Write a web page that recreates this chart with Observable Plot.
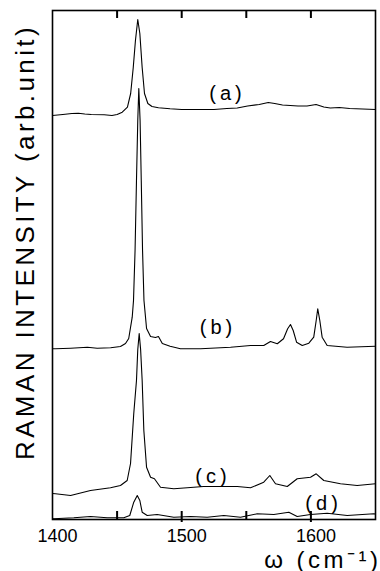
<!DOCTYPE html>
<html><head><meta charset="utf-8">
<script src="https://cdn.jsdelivr.net/npm/d3@7"></script>
<script src="https://cdn.jsdelivr.net/npm/@observablehq/plot@0.6"></script>
<style>
body{margin:0;background:#fff}
</style>
</head><body><div id="chart"></div>
<script>
// Wavenumbers (cm-1) and intensities (arb. unit, offset spectra as drawn)
const waveA = [1400,1408,1415,1420,1425,1430,1440,1446,1450,1454,1458,1460.5,1462.5,1464.2,1466,1467.6,1469.4,1471.2,1473.8,1477,1482,1491,1500,1512,1525,1535,1543,1551,1560,1567,1572,1578,1590,1597,1604,1610,1615,1622,1630,1640,1650];
const intA  = [404,405,406,406.3,405.5,405,404.7,404,405,407.3,412.3,426,452,479,500,486,452,426,416,413,411.7,410.7,410,410,410,411,411.5,413.5,415,417,416,414.5,413.5,413.5,415,412.5,411.5,412,411,410.5,410];

const waveB = [1400,1402.3,1414,1427,1434.6,1445,1452.6,1456.5,1459,1461.7,1462.7,1463.9,1465,1466,1466.8,1467.8,1468.7,1469.7,1470.8,1472.8,1475.9,1479.7,1482,1485,1491,1499,1514.6,1537.8,1553.3,1563.5,1568.7,1574,1578.8,1582,1584.2,1586.3,1588.9,1593.3,1598.4,1602.2,1604.1,1605.3,1606.9,1608.7,1612.6,1628,1650];
const intB  = [170.7,170.7,171.3,172.3,171.3,171.7,173,176,181,202.3,219,269,339,399,431,399,339,269,219,191,183,182,183,176,173.3,170.7,170.7,172.3,174,174,178,175.7,180.7,190.7,195,189,177.3,174,176.3,182.3,199,210.7,199,182.3,174,172.3,173.3];

const waveC = [1400,1402.3,1414,1429.4,1444.9,1452.6,1457.8,1460.4,1462.9,1465,1466,1467.1,1468.2,1469.4,1470.7,1472.8,1475.9,1478.9,1483.6,1493.9,1504.3,1516.9,1532.4,1543,1553.3,1563.5,1568.2,1572.6,1581.7,1589.4,1599.7,1604.1,1610,1622.9,1635.8,1650];
const intC  = [26,25.7,24,29,31.7,34,39,56,106,139,170,186,170,139,89,52.3,42.3,40.7,32.3,30.7,31.7,33,33,33,31.7,37.3,44,35.7,33,40.7,42.3,45.7,39,35.7,34,35.7];

const waveD = [1400,1401,1416.5,1429.4,1442.3,1455.2,1459.8,1462.9,1465.6,1467.6,1469.4,1473.3,1481,1493.9,1506.8,1519.7,1532.6,1545.5,1558.4,1571.3,1582.9,1589.4,1599.7,1612.6,1628.1,1648.7,1650];
const intD  = [1,0.7,1.7,3,1.7,1.7,4,17.3,24,19,7.3,4,5,2.3,3,2.3,4,2.3,5.7,5,7.3,3,5,6.3,4,5.7,5.5];

const seriesNames = ["a","b","c","d"];
const labelText = ["(a)","(b)","(c)","(d)"];
const labelWave = [1535.4,1528.1,1524.2,1609.8];
const labelInt  = [426,191.5,42.5,16];

const xTickLabels = [1400,1500,1600];
const xTicksMinor = [1450,1500,1550,1600];
const xTicksMajor = [1500,1600];

const yTitle = "RAMAN INTENSITY (arb.unit)";
const xTitle = "ω (cm⁻¹)";

const waves = [waveA, waveB, waveC, waveD];
const ints = [intA, intB, intC, intD];
const rows = [];
seriesNames.forEach((s, i) => waves[i].forEach((w, j) => rows.push({series: s, w, I: ints[i][j]})));
const labels = labelText.map((t, i) => ({t, w: labelWave[i], I: labelInt[i]}));

const yMin = 0, yMax = 509, tickLen = 8;

const chart = Plot.plot({
  width: 380, height: 571,
  marginLeft: 52, marginRight: 5, marginTop: 10, marginBottom: 52,
  x: {domain: [1400, 1650], axis: null},
  y: {domain: [yMin, yMax], axis: null},
  style: {fontFamily: "'Liberation Sans', Arial, sans-serif", background: "white", color: "black", overflow: "visible"},
  marks: [
    Plot.frame({stroke: "black", strokeWidth: 1.6}),
    Plot.lineY(rows, {x: "w", y: "I", z: "series", stroke: "black", strokeWidth: 1.1}),
    // inward ticks along the top edge
    Plot.ruleX(xTicksMinor, {x: d => d, y1: yMax, y2: yMax - tickLen, stroke: "black", strokeWidth: 2}),
    // inward ticks along the bottom edge
    Plot.ruleX(xTicksMinor, {x: d => d, y1: yMin, y2: yMin + tickLen, stroke: "black", strokeWidth: 2}),
    // major ticks cross the bottom edge
    Plot.ruleX(xTicksMajor, {x: d => d, y1: yMin - 3, y2: yMin, stroke: "black", strokeWidth: 2}),
    Plot.axisX({anchor: "bottom", ticks: xTickLabels, tickSize: 0, tickPadding: 10, fontSize: 18, dx: 5, tickFormat: d => String(d), label: null}),
    Plot.text([xTitle], {frameAnchor: "bottom-right", textAnchor: "end", lineAnchor: "bottom", dx: 6, dy: 48, fontSize: 24}),
    Plot.text([yTitle], {frameAnchor: "left", rotate: -90, textAnchor: "middle", lineAnchor: "bottom", dx: -19, dy: -23, fontSize: 26}),
    Plot.text(labels, {x: "w", y: "I", text: "t", fontSize: 20})
  ]
});
const spacing = new Map([[yTitle, 3.4], [xTitle, 3.5]]);
labelText.forEach(t => spacing.set(t, 4));
d3.select(chart).selectAll("text").each(function() {
  const s = spacing.get(this.textContent);
  if (s != null) this.setAttribute("letter-spacing", s);
});
document.getElementById("chart").appendChild(chart);
</script>
</body></html>
